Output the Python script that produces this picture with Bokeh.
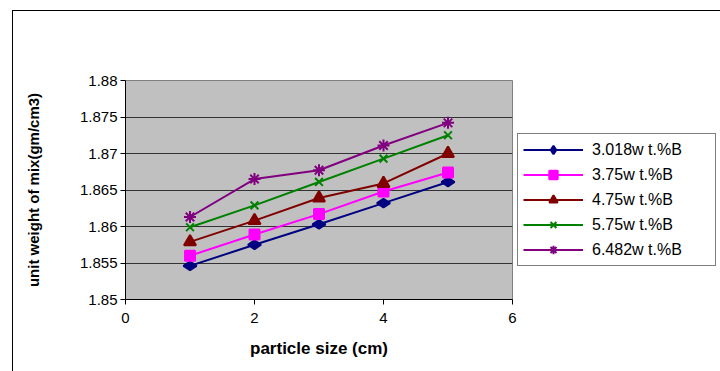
import math
from bokeh.plotting import figure
from bokeh.models import (Range1d, FixedTicker, CustomJSTickFormatter, Legend, LegendItem,
                          InlineStyleSheet)
from bokeh.embed import file_html
from bokeh.resources import INLINE

# ---- data ----
particle_size = [1, 2, 3, 4, 5]
s_3018 = [1.8546, 1.8575, 1.8603, 1.8632, 1.8661]
s_375 = [1.8560, 1.8589, 1.8617, 1.8648, 1.8674]
s_475 = [1.8579, 1.8608, 1.8639, 1.8659, 1.8700]
s_575 = [1.8599, 1.8629, 1.8661, 1.8693, 1.8725]
s_6482 = [1.8613, 1.8665, 1.8677, 1.8711, 1.8742]
series_names = ["3.018w t.%B", "3.75w t.%B", "4.75w t.%B", "5.75w t.%B", "6.482w t.%B"]
x_ticks = [0, 2, 4, 6]
y_ticks = [1.85, 1.855, 1.86, 1.865, 1.87, 1.875, 1.88]

FONT = "Liberation Sans"

p = figure(frame_width=387, frame_height=219, output_backend="svg", toolbar_location=None,
           x_range=Range1d(0, 6), y_range=Range1d(1.85, 1.88),
           min_border_left=125, min_border_right=208, min_border_top=80, min_border_bottom=72)
p.background_fill_color = "#C0C0C0"
p.border_fill_color = "white"
p.outline_line_color = "#808080"
p.outline_line_width = 1

p.xgrid.grid_line_color = None
p.ygrid.grid_line_color = "#333333"
p.ygrid.grid_line_width = 1

p.xaxis.ticker = FixedTicker(ticks=x_ticks)
p.yaxis.ticker = FixedTicker(ticks=y_ticks)
p.yaxis.formatter = CustomJSTickFormatter(code="return tick.toFixed(3).replace(/0+$/, '');")
for ax in (p.xaxis, p.yaxis):
    ax.axis_line_color = "black"
    ax.major_tick_line_color = "black"
    ax.major_tick_out = 5
    ax.major_tick_in = 0
    ax.minor_tick_line_color = None
    ax.major_label_text_font = FONT
    ax.major_label_text_font_size = "15px"
    ax.major_label_text_color = "black"
    ax.axis_label_text_font = FONT
    ax.axis_label_text_font_style = "bold"
    ax.axis_label_text_color = "black"

p.xaxis.axis_label = "particle size (cm)"
p.xaxis.axis_label_text_font_size = "17px"
p.xaxis.major_label_standoff = 8
p.xaxis.axis_label_standoff = 13
p.yaxis.axis_label = "unit weight of mix(gm/cm3)"
p.yaxis.axis_label_text_font_size = "15px"
p.yaxis.major_label_standoff = 3
p.yaxis.axis_label_standoff = 35

colors = ["#000080", "#FF00FF", "#800000", "#008000", "#800080"]
markers = ["diamond", "square", "triangle", "x", "asterisk"]
sizes = [13, 10, 12, 11, 12]
angles = [math.pi / 2, 0, 0, 0, 0]
data = [s_3018, s_375, s_475, s_575, s_6482]

items = []
for name, ys, c, m, s, a in zip(series_names, data, colors, markers, sizes, angles):
    r1 = p.line(particle_size, ys, line_color=c, line_width=2)
    r2 = p.scatter(particle_size, ys, marker=m, size=s, angle=a,
                   fill_color=c, line_color=c, line_width=2)
    items.append(LegendItem(label=name, renderers=[r1, r2]))

legend = Legend(items=items, location=(5, 33))
legend.border_line_color = "black"
legend.border_line_width = 1
legend.background_fill_color = "white"
legend.background_fill_alpha = 1
legend.label_text_font = FONT
legend.label_text_font_size = "16px"
legend.label_text_color = "black"
legend.glyph_width = 60
legend.glyph_height = 21
legend.label_height = 21
legend.label_width = 118
legend.spacing = 4
legend.padding = 5
legend.margin = 0
legend.label_standoff = 9
p.add_layout(legend, "right")

p.stylesheets = [InlineStyleSheet(css="""
:host::after {
  content: '';
  position: absolute;
  left: 12px; top: 10px; right: 0; bottom: 0;
  border-left: 1px solid black;
  border-top: 1px solid black;
  pointer-events: none;
}
""")]

open("out.html", "w").write(file_html(p, INLINE))
